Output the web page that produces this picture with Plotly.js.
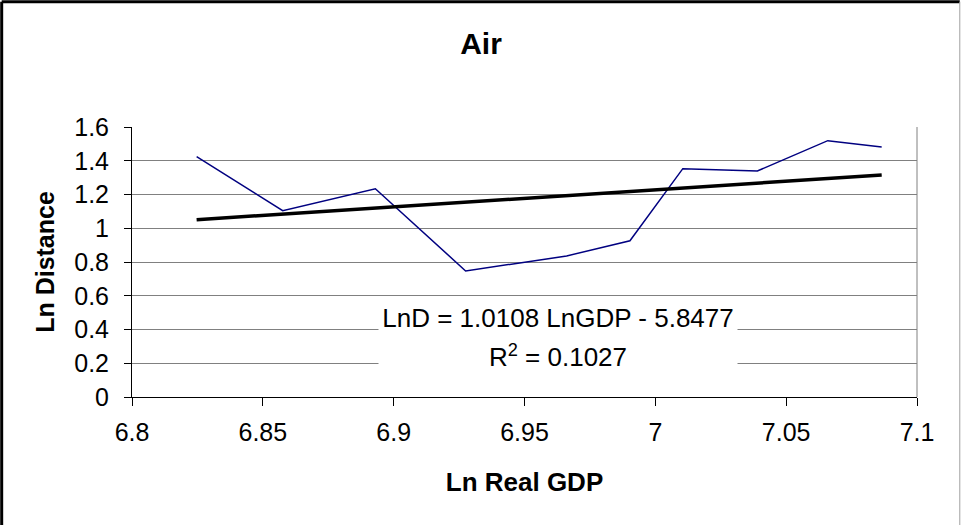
<!DOCTYPE html>
<html>
<head>
<meta charset="utf-8">
<script src="https://cdn.plot.ly/plotly-3.0.1.min.js"></script>
<style>
  html, body { margin: 0; padding: 0; background: #fff; }
  #chart { width: 963px; height: 525px; }
</style>
</head>
<body>
<div id="chart"></div>
<script>
// Data
const lnGDP = [6.8247, 6.8576, 6.8930, 6.9275, 6.9661, 6.9903, 7.0105, 7.0390, 7.0659, 7.0865];
const lnDistance = [1.424, 1.104, 1.234, 0.747, 0.836, 0.926, 1.353, 1.339, 1.519, 1.481];
const trendX = [6.8247, 7.0865];
const trendY = [1.0507, 1.3154];
const xTicks = [6.8, 6.85, 6.9, 6.95, 7, 7.05, 7.1];
const yTicks = [0, 0.2, 0.4, 0.6, 0.8, 1, 1.2, 1.4, 1.6];
const chartTitle = "Air";
const xTitle = "Ln Real GDP";
const yTitle = "Ln Distance";
const eqLine1 = "LnD = 1.0108 LnGDP - 5.8477";
const eqLine2 = "R<sup>2</sup> = 0.1027";

const FONT = "Liberation Sans, Arial, sans-serif";

const traces = [
  {
    x: lnGDP, y: lnDistance, type: "scatter", mode: "lines",
    line: { color: "#000080", width: 1.5 }, hoverinfo: "skip", showlegend: false
  },
  {
    x: trendX, y: trendY, type: "scatter", mode: "lines",
    line: { color: "#000000", width: 3.5 }, hoverinfo: "skip", showlegend: false
  }
];

const layout = {
  width: 963, height: 525,
  margin: { l: 132, r: 46, t: 127, b: 128 },
  paper_bgcolor: "#ffffff", plot_bgcolor: "#ffffff",
  font: { family: FONT, size: 22, color: "#000" },
  showlegend: false,
  title: {
    text: "<b>" + chartTitle + "</b>",
    font: { family: FONT, size: 30, color: "#000" },
    xref: "container", x: 0.4995, xanchor: "center",
    yref: "container", y: 1 - 43 / 525, yanchor: "middle"
  },
  xaxis: {
    range: [6.8, 7.1], tickvals: xTicks, ticktext: xTicks.map(String),
    showgrid: false, zeroline: false,
    showline: true, linecolor: "#000", linewidth: 1,
    ticks: "outside", ticklen: 8, tickcolor: "#000", tickwidth: 1,
    ticklabelstandoff: 5,
    tickfont: { family: FONT, size: 25 },
    title: { text: "<b>" + xTitle + "</b>", font: { family: FONT, size: 26 }, standoff: 27 }
  },
  yaxis: {
    range: [0, 1.6], tickvals: yTicks, ticktext: yTicks.map(String),
    showgrid: true, gridcolor: "#808080", gridwidth: 1,
    zeroline: false,
    showline: true, linecolor: "#000", linewidth: 1,
    ticks: "outside", ticklen: 7, tickcolor: "#000", tickwidth: 1,
    ticklabelstandoff: 10,
    tickfont: { family: FONT, size: 25 },
    title: { text: "<b>" + yTitle + "</b>", font: { family: FONT, size: 25 }, standoff: 12 }
  },
  shapes: [
    // right border of plot area
    { type: "line", xref: "paper", yref: "paper", x0: 1, x1: 1, y0: 0, y1: 1,
      line: { color: "#808080", width: 1 } },
    // outer chart frame
    { type: "line", xref: "paper", yref: "paper", x0: -0.166, x1: 1.0545, y0: 1.464, y1: 1.464,
      line: { color: "#000", width: 3 } },
    { type: "line", xref: "paper", yref: "paper", x0: -0.166, x1: -0.166, y0: 1.464, y1: -0.48,
      line: { color: "#000", width: 3 } },
    { type: "line", xref: "paper", yref: "paper", x0: 1.0545, x1: 1.0545, y0: 1.464, y1: -0.48,
      line: { color: "#a0a0a0", width: 1 } }
  ],
  annotations: [
    { text: eqLine1, xref: "x", yref: "y", x: 6.9628, y: 0.468, showarrow: false,
      xanchor: "center", yanchor: "middle", width: 356, height: 38, bgcolor: "#ffffff",
      borderpad: 1, font: { family: FONT, size: 26, color: "#000" } },
    { text: eqLine2, xref: "x", yref: "y", x: 6.9628, y: 0.243, showarrow: false,
      xanchor: "center", yanchor: "middle", width: 356, height: 38, bgcolor: "#ffffff",
      borderpad: 1, font: { family: FONT, size: 26, color: "#000" } }
  ]
};

Plotly.newPlot("chart", traces, layout, { staticPlot: true, displayModeBar: false });
</script>
</body>
</html>
